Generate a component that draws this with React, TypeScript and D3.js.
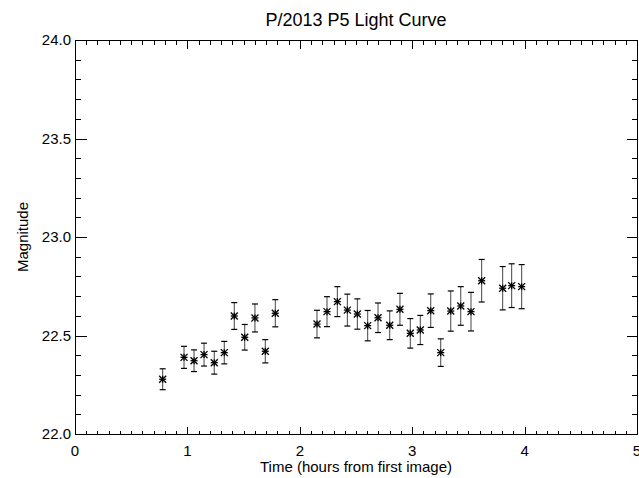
import React from "react";
import * as d3 from "d3";

const times = [0.78, 0.97, 1.059, 1.148, 1.239, 1.328, 1.417, 1.51, 1.601, 1.693, 1.782,
  2.153, 2.242, 2.334, 2.423, 2.512, 2.604, 2.696, 2.8, 2.891, 2.983, 3.072, 3.165, 3.254,
  3.343, 3.432, 3.523, 3.618, 3.805, 3.885, 3.974];
const mags = [22.278, 22.389, 22.372, 22.403, 22.362, 22.413, 22.599, 22.491, 22.589, 22.42, 22.613,
  22.558, 22.621, 22.672, 22.629, 22.609, 22.55, 22.59, 22.552, 22.633, 22.511, 22.528, 22.626, 22.413,
  22.624, 22.65, 22.621, 22.778, 22.74, 22.753, 22.748];
const errs = [0.053, 0.056, 0.055, 0.058, 0.058, 0.057, 0.068, 0.065, 0.071, 0.059, 0.069,
  0.07, 0.076, 0.076, 0.081, 0.077, 0.077, 0.075, 0.073, 0.081, 0.075, 0.074, 0.085, 0.07,
  0.102, 0.098, 0.098, 0.108, 0.11, 0.111, 0.112];
const xTicks = [0, 1, 2, 3, 4, 5];
const yTicks = [22.0, 22.5, 23.0, 23.5, 24.0];

const W = 639, H = 478;
const L = 75, R = 637, T = 40, B = 434;
const FONT = "'Liberation Sans', Arial, Helvetica, sans-serif";

export default function App() {
  const x = d3.scaleLinear().domain([0, 5]).range([L, R]);
  const y = d3.scaleLinear().domain([22, 24]).range([B, T]);
  const xMinor = d3.range(0, 5.0001, 0.1).map((v) => +v.toFixed(2));
  const yMinor = d3.range(22, 24.0001, 0.1).map((v) => +v.toFixed(2));
  const isMajorX = (v: number) => Math.abs(v - Math.round(v)) < 1e-6;
  const isMajorY = (v: number) => Math.abs(v * 2 - Math.round(v * 2)) < 1e-6;
  const xMaj = 8, xMin = 4, yMaj = 11, yMin = 5.5;
  const c = (v: number) => Math.round(v) + 0.5;

  return (
    <svg width={W} height={H} style={{ position: "absolute", left: 0, top: 0, background: "#fff" }}
      fontFamily={FONT}>
      <rect x={0} y={0} width={W} height={H} fill="#fff" />
      <text x={(L + R) / 2} y={26} textAnchor="middle" fontSize={18} fill="#000">P/2013 P5 Light Curve</text>
      <g stroke="#000" strokeWidth={1} shapeRendering="crispEdges" fill="none">
        <rect x={c(L)} y={c(T)} width={Math.round(R) - Math.round(L)} height={Math.round(B) - Math.round(T)} />
        {xMinor.map((v, i) => {
          const len = isMajorX(v) ? xMaj : xMin;
          const px = c(x(v));
          return (
            <g key={"xt" + i}>
              <line x1={px} x2={px} y1={c(B)} y2={c(B) - len} />
              <line x1={px} x2={px} y1={c(T)} y2={c(T) + len} />
            </g>
          );
        })}
        {yMinor.map((v, i) => {
          const len = isMajorY(v) ? yMaj : yMin;
          const py = c(y(v));
          return (
            <g key={"yt" + i}>
              <line x1={c(L)} x2={c(L) + len} y1={py} y2={py} />
              <line x1={c(R)} x2={c(R) - len} y1={py} y2={py} />
            </g>
          );
        })}
      </g>
      {xTicks.map((v) => (
        <text key={"xl" + v} x={x(v)} y={B + 22} textAnchor="middle" fontSize={15} fill="#000">{v}</text>
      ))}
      {yTicks.map((v) => (
        <text key={"yl" + v} x={L - 4} y={y(v) + 5} textAnchor="end" fontSize={15} fill="#000">{v.toFixed(1)}</text>
      ))}
      <text x={(L + R) / 2} y={H - 6} textAnchor="middle" fontSize={15} fill="#000">Time (hours from first image)</text>
      <text transform={`translate(28,${(T + B) / 2}) rotate(-90)`} textAnchor="middle" fontSize={15} fill="#000">Magnitude</text>
      <g stroke="#000" fill="none">
        {times.map((t, i) => {
          const px = x(t);
          const py = y(mags[i]);
          const top = y(mags[i] + errs[i]);
          const bot = y(mags[i] - errs[i]);
          const s = 3.5;
          return (
            <g key={"p" + i}>
              <line x1={px} x2={px} y1={top} y2={bot} strokeWidth={1} stroke="#444" />
              <line x1={px - 3} x2={px + 3} y1={top} y2={top} strokeWidth={1.2} />
              <line x1={px - 3} x2={px + 3} y1={bot} y2={bot} strokeWidth={1.2} />
              <line x1={px - s} x2={px + s} y1={py - s} y2={py + s} strokeWidth={1.3} />
              <line x1={px - s} x2={px + s} y1={py + s} y2={py - s} strokeWidth={1.3} />
              <line x1={px - s} x2={px + s} y1={py} y2={py} strokeWidth={1.3} />
              <line x1={px} x2={px} y1={py - s} y2={py + s} strokeWidth={1.3} />
            </g>
          );
        })}
      </g>
    </svg>
  );
}
